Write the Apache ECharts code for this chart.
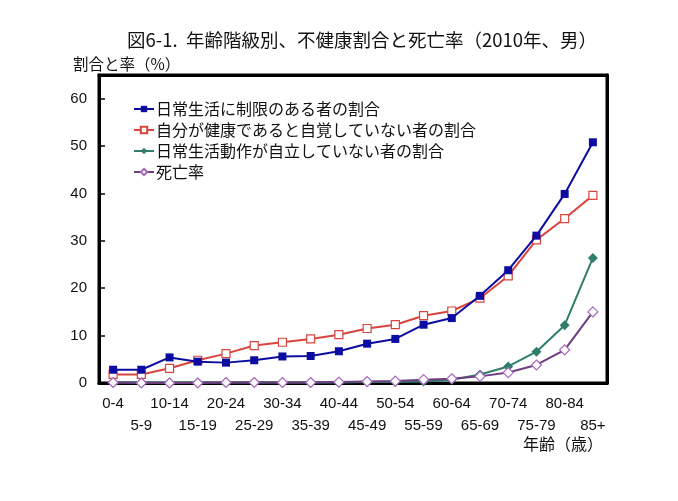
<!DOCTYPE html>
<html>
<head>
<meta charset="utf-8">
<script src="https://cdn.jsdelivr.net/npm/echarts@6/dist/echarts.min.js"></script>
<style>
  html, body { margin: 0; padding: 0; background: #fff; }
  #main { width: 678px; height: 501px; }
</style>
</head>
<body>
<div id="main"></div>
<script>
var chart = echarts.init(document.getElementById('main'));

var ages = ['0-4', '5-9', '10-14', '15-19', '20-24', '25-29', '30-34', '35-39', '40-44',
    '45-49', '50-54', '55-59', '60-64', '65-69', '70-74', '75-79', '80-84', '85+'];

// 日常生活に制限のある者の割合
var limited = [2.8, 2.8, 5.4, 4.5, 4.3, 4.8, 5.6, 5.7, 6.7, 8.3, 9.3, 12.3, 13.7, 18.4, 23.8, 31.1, 39.9, 50.8];
// 自分が健康であると自覚していない者の割合
var unhealthy = [1.8, 1.8, 3.1, 4.8, 6.2, 7.9, 8.6, 9.3, 10.2, 11.5, 12.3, 14.2, 15.2, 17.9, 22.6, 30.2, 34.7, 39.6];
// 日常生活動作が自立していない者の割合
var dependent = [0.1, 0.1, 0.1, 0.1, 0.1, 0.1, 0.1, 0.1, 0.1, 0.2, 0.2, 0.3, 0.7, 1.8, 3.5, 6.6, 12.2, 26.4];
// 死亡率
var mortality = [0.1, 0.0, 0.0, 0.0, 0.1, 0.1, 0.1, 0.1, 0.2, 0.3, 0.4, 0.7, 0.9, 1.4, 2.2, 3.8, 7.0, 15.0];

var names = ['日常生活に制限のある者の割合', '自分が健康であると自覚していない者の割合',
    '日常生活動作が自立していない者の割合', '死亡率'];

var y_max = 65;

var font = '"Noto Sans CJK JP", "Liberation Sans", sans-serif';
var numFont = '"Liberation Sans", sans-serif';
var frame = '#000';

option = {
    animation: false,
    title: [
        {
            text: '図6-1.  年齢階級別、不健康割合と死亡率（2010年、男）',
            left: 122,
            top: 26,
            textStyle: { fontFamily: font, fontSize: 18.5, fontWeight: 'normal', color: '#111' }
        },
        {
            text: '割合と率（%）',
            left: 68,
            top: 51,
            textStyle: { fontFamily: font, fontSize: 15.5, fontWeight: 'normal', color: '#111' }
        },
        {
            text: '年齢（歳）',
            right: 70,
            top: 431,
            textStyle: { fontFamily: font, fontSize: 16, fontWeight: 'normal', color: '#111' }
        }
    ],
    legend: {
        orient: 'vertical',
        left: 128,
        top: 96,
        itemGap: 5,
        itemWidth: 20,
        itemHeight: 8,
        textStyle: { fontFamily: font, fontSize: 16, color: '#111', padding: [0, 0, 0, -3] },
        data: names
    },
    grid: {
        left: 99,
        right: 71,
        top: 75,
        bottom: 118,
        show: true,
        borderColor: frame,
        borderWidth: 3
    },
    xAxis: [
        {
            type: 'category',
            data: ages,
            boundaryGap: true,
            axisLine: { lineStyle: { color: frame, width: 3 } },
            axisTick: { inside: true, length: 5, interval: 0, lineStyle: { color: frame, width: 1.5 } },
            axisLabel: {
                interval: 0,
                margin: 10,
                fontFamily: numFont,
                fontSize: 15,
                color: '#111',
                lineHeight: 22,
                formatter: function (value, index) {
                    return index % 2 === 1 ? '\n' + value : value;
                }
            }
        },
        {
            // top edge of the plot frame
            type: 'category',
            data: ages,
            position: 'top',
            axisLine: { show: true, onZero: false, lineStyle: { color: frame, width: 3 } },
            axisTick: { show: false },
            axisLabel: { show: false }
        }
    ],
    yAxis: [
        {
            type: 'value',
            min: 0,
            max: y_max,
            interval: 10,
            splitLine: { show: false },
            axisLine: { show: true, lineStyle: { color: frame, width: 3 } },
            axisTick: { show: true, inside: true, length: 6, lineStyle: { color: frame, width: 1.5 } },
            axisLabel: {
                showMaxLabel: false,
                margin: 12,
                fontFamily: numFont,
                fontSize: 15,
                color: '#111'
            }
        },
        {
            // right edge of the plot frame
            type: 'value',
            min: 0,
            max: y_max,
            interval: 10,
            position: 'right',
            splitLine: { show: false },
            axisLine: { show: true, onZero: false, lineStyle: { color: frame, width: 3 } },
            axisTick: { show: false },
            axisLabel: { show: false }
        }
    ],
    series: [
        {
            name: names[0],
            type: 'line',
            data: limited,
            symbol: 'rect',
            symbolSize: 8,
            z: 4,
            lineStyle: { color: '#0c0ca0', width: 2 },
            itemStyle: { color: '#0c0ca0' }
        },
        {
            name: names[1],
            type: 'line',
            data: unhealthy,
            symbol: 'rect',
            symbolSize: 8,
            z: 3,
            lineStyle: { color: '#d8453f', width: 2 },
            itemStyle: { color: '#fff', borderColor: '#d8453f', borderWidth: 1.2 }
        },
        {
            name: names[2],
            type: 'line',
            data: dependent,
            symbol: 'diamond',
            symbolSize: 10,
            z: 2,
            lineStyle: { color: '#2f7d6d', width: 2 },
            itemStyle: { color: '#2f7d6d' }
        },
        {
            name: names[3],
            type: 'line',
            data: mortality,
            symbol: 'diamond',
            symbolSize: 10,
            z: 5,
            lineStyle: { color: '#6e3d80', width: 2 },
            itemStyle: { color: '#fff', borderColor: '#a865bd', borderWidth: 1.2 }
        }
    ]
};

chart.setOption(option);
</script>
</body>
</html>
